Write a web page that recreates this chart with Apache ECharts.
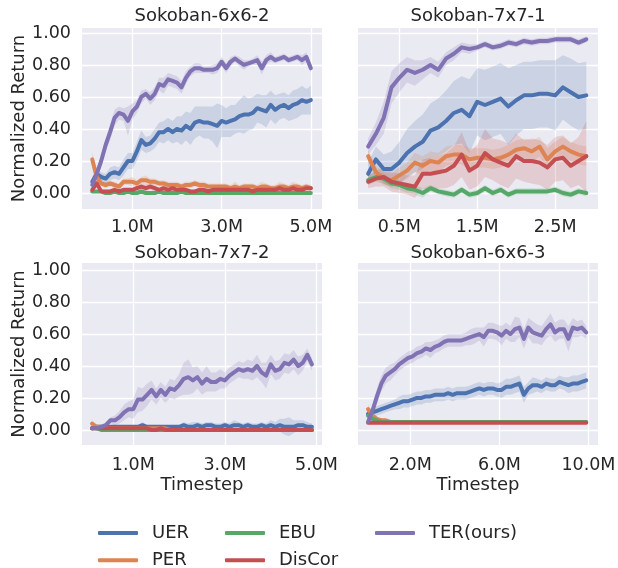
<!DOCTYPE html>
<html><head><meta charset="utf-8">
<script src="https://cdn.jsdelivr.net/npm/echarts@6/dist/echarts.min.js"></script>
<style>html,body{margin:0;padding:0;background:#fff}#c{width:618px;height:568px}</style>
</head><body><div id="c"></div>
<script>
// ---------- data ----------
const methods = ['UER','PER','EBU','DisCor','TER(ours)'];
const colors = ['#4C72B0','#DD8452','#55A868','#C44E52','#8172B3'];
const titles = ['Sokoban-6x6-2','Sokoban-7x7-1','Sokoban-7x7-2','Sokoban-6x6-3'];
const yTicks = [0,0.2,0.4,0.6,0.8,1.0];
const yTickLabels = ['0.00','0.20','0.40','0.60','0.80','1.00'];
const xTicksTL = [1,3,5], xTickLabelsTL = ['1.0M','3.0M','5.0M'];
const xTicksTR = [0.5,1.5,2.5], xTickLabelsTR = ['0.5M','1.5M','2.5M'];
const xTicksBL = [1,3,5], xTickLabelsBL = ['1.0M','3.0M','5.0M'];
const xTicksBR = [2,6,10], xTickLabelsBR = ['2.0M','6.0M','10.0M'];

// Sokoban-6x6-2 (timesteps in millions)
const tl_x = [0.1,0.2,0.3,0.4,0.5,0.6,0.7,0.8,0.9,1.0,1.1,1.2,1.3,1.4,1.5,1.6,1.7,1.8,1.9,2.0,2.1,2.2,2.3,2.4,2.5,2.6,2.7,2.8,2.9,3.0,3.1,3.2,3.3,3.4,3.5,3.6,3.7,3.8,3.9,4.0,4.1,4.2,4.3,4.4,4.5,4.6,4.7,4.8,4.9,5.0];
const tl_uer = [0.07,0.12,0.10,0.09,0.12,0.13,0.12,0.16,0.20,0.20,0.26,0.33,0.30,0.31,0.34,0.38,0.38,0.40,0.38,0.40,0.39,0.42,0.40,0.44,0.45,0.44,0.44,0.43,0.42,0.45,0.44,0.45,0.46,0.48,0.49,0.49,0.50,0.53,0.52,0.51,0.55,0.52,0.54,0.55,0.53,0.55,0.56,0.58,0.57,0.58];
const tl_uer_ci = [0.03,0.04,0.03,0.03,0.04,0.04,0.04,0.05,0.05,0.05,0.06,0.06,0.05,0.05,0.06,0.06,0.07,0.07,0.07,0.08,0.09,0.09,0.10,0.10,0.09,0.10,0.10,0.11,0.14,0.10,0.09,0.10,0.09,0.10,0.12,0.10,0.10,0.09,0.09,0.10,0.09,0.09,0.08,0.08,0.08,0.09,0.09,0.09,0.08,0.09];
const tl_per = [0.21,0.10,0.06,0.05,0.06,0.05,0.04,0.07,0.07,0.07,0.06,0.08,0.08,0.07,0.07,0.06,0.06,0.05,0.05,0.05,0.04,0.05,0.05,0.06,0.05,0.05,0.04,0.04,0.04,0.04,0.04,0.03,0.04,0.03,0.04,0.04,0.04,0.03,0.04,0.04,0.03,0.03,0.04,0.04,0.03,0.04,0.04,0.03,0.04,0.03];
const tl_per_ci = [0.05,0.03,0.02,0.02,0.02,0.02,0.02,0.02,0.02,0.03,0.02,0.02,0.03,0.02,0.02,0.02,0.02,0.02,0.02,0.02,0.02,0.02,0.02,0.02,0.02,0.02,0.02,0.02,0.02,0.02,0.02,0.02,0.03,0.02,0.02,0.02,0.02,0.02,0.03,0.02,0.02,0.02,0.03,0.02,0.02,0.03,0.02,0.02,0.02,0.02];
const tl_ebu = [0.01,0.01,0.01,0.00,0.00,0.01,0.00,0.00,0.01,0.00,0.00,0.01,0.00,0.00,0.00,0.01,0.00,0.00,0.00,0.00,0.01,0.00,0.00,0.00,0.00,0.00,0.00,0.00,0.00,0.00,0.00,0.00,0.00,0.00,0.00,0.00,0.00,0.00,0.00,0.00,0.00,0.00,0.00,0.00,0.00,0.00,0.00,0.00,0.00,0.00];
const tl_ebu_ci = [0.01,0.01,0.01,0.01,0.01,0.01,0.01,0.01,0.01,0.01,0.01,0.01,0.01,0.01,0.01,0.01,0.01,0.01,0.01,0.01,0.01,0.01,0.01,0.01,0.01,0.01,0.01,0.01,0.01,0.01,0.01,0.01,0.01,0.01,0.01,0.01,0.01,0.01,0.01,0.01,0.01,0.01,0.01,0.01,0.01,0.01,0.01,0.01,0.01,0.01];
const tl_dis = [0.02,0.06,0.01,0.01,0.01,0.02,0.01,0.02,0.02,0.02,0.03,0.04,0.03,0.04,0.03,0.02,0.03,0.02,0.03,0.02,0.02,0.02,0.01,0.01,0.02,0.02,0.01,0.02,0.02,0.02,0.02,0.02,0.02,0.02,0.02,0.02,0.01,0.02,0.02,0.02,0.02,0.02,0.03,0.02,0.02,0.03,0.02,0.02,0.03,0.03];
const tl_dis_ci = [0.01,0.02,0.01,0.01,0.01,0.01,0.01,0.01,0.01,0.01,0.02,0.02,0.02,0.02,0.02,0.01,0.02,0.01,0.02,0.01,0.01,0.01,0.01,0.01,0.01,0.01,0.01,0.01,0.01,0.01,0.01,0.01,0.01,0.01,0.01,0.01,0.01,0.01,0.01,0.01,0.01,0.01,0.02,0.01,0.01,0.02,0.01,0.01,0.01,0.01];
const tl_ter = [0.05,0.12,0.20,0.30,0.38,0.47,0.50,0.49,0.45,0.51,0.54,0.60,0.62,0.59,0.62,0.68,0.67,0.71,0.70,0.69,0.66,0.72,0.76,0.78,0.78,0.77,0.77,0.77,0.78,0.82,0.78,0.82,0.84,0.82,0.80,0.81,0.82,0.83,0.78,0.83,0.85,0.83,0.84,0.85,0.83,0.84,0.85,0.83,0.85,0.78];
const tl_ter_ci = [0.02,0.03,0.04,0.04,0.05,0.05,0.04,0.04,0.09,0.05,0.04,0.04,0.03,0.04,0.04,0.04,0.05,0.04,0.04,0.04,0.04,0.04,0.03,0.03,0.03,0.02,0.02,0.03,0.03,0.03,0.03,0.03,0.02,0.03,0.03,0.02,0.02,0.03,0.04,0.03,0.03,0.02,0.02,0.02,0.02,0.02,0.02,0.03,0.03,0.03];

// Sokoban-7x7-1
const tr_x = [0.1,0.2,0.3,0.4,0.5,0.6,0.7,0.8,0.9,1.0,1.1,1.2,1.3,1.4,1.5,1.6,1.7,1.8,1.9,2.0,2.1,2.2,2.3,2.4,2.5,2.6,2.7,2.8,2.9];
const tr_uer = [0.12,0.21,0.15,0.15,0.19,0.25,0.29,0.32,0.39,0.41,0.45,0.50,0.52,0.48,0.57,0.55,0.57,0.59,0.54,0.58,0.61,0.61,0.62,0.62,0.61,0.66,0.63,0.60,0.61];
const tr_uer_ci = [0.07,0.08,0.09,0.11,0.13,0.15,0.16,0.17,0.17,0.18,0.19,0.20,0.21,0.23,0.21,0.22,0.22,0.22,0.24,0.22,0.21,0.21,0.21,0.21,0.22,0.20,0.21,0.21,0.21];
const tr_per = [0.23,0.13,0.09,0.08,0.11,0.14,0.19,0.17,0.20,0.19,0.23,0.24,0.24,0.21,0.22,0.22,0.21,0.22,0.24,0.27,0.28,0.26,0.29,0.21,0.26,0.29,0.26,0.24,0.23];
const tr_per_ci = [0.04,0.04,0.04,0.04,0.05,0.05,0.06,0.06,0.06,0.06,0.06,0.06,0.06,0.07,0.06,0.06,0.06,0.06,0.06,0.06,0.06,0.07,0.06,0.07,0.06,0.06,0.06,0.06,0.06];
const tr_ebu = [0.08,0.10,0.09,0.06,0.05,0.03,0.02,0.00,0.03,0.01,0.00,-0.01,0.02,-0.01,0.00,0.03,0.00,0.02,-0.01,0.01,0.01,0.01,0.01,0.01,0.02,0.00,-0.01,0.01,0.00];
const tr_ebu_ci = [0.03,0.03,0.03,0.03,0.03,0.03,0.03,0.03,0.02,0.02,0.02,0.02,0.02,0.02,0.02,0.02,0.02,0.02,0.02,0.02,0.02,0.02,0.02,0.02,0.02,0.02,0.02,0.02,0.02];
const tr_dis = [0.07,0.09,0.10,0.07,0.06,0.05,0.04,0.12,0.12,0.13,0.14,0.17,0.24,0.14,0.17,0.25,0.21,0.19,0.17,0.23,0.20,0.20,0.19,0.16,0.21,0.22,0.17,0.20,0.23];
const tr_dis_ci = [0.04,0.05,0.06,0.06,0.06,0.06,0.07,0.09,0.10,0.10,0.11,0.12,0.14,0.12,0.13,0.15,0.13,0.14,0.14,0.14,0.13,0.14,0.14,0.14,0.14,0.14,0.14,0.15,0.22];
const tr_ter = [0.29,0.37,0.47,0.66,0.72,0.77,0.75,0.77,0.80,0.77,0.84,0.87,0.91,0.90,0.91,0.93,0.91,0.92,0.94,0.93,0.95,0.94,0.95,0.95,0.96,0.96,0.96,0.94,0.96];
const tr_ter_ci = [0.05,0.07,0.10,0.10,0.09,0.08,0.08,0.06,0.05,0.05,0.04,0.04,0.03,0.03,0.02,0.02,0.02,0.02,0.02,0.02,0.02,0.02,0.02,0.02,0.02,0.02,0.02,0.02,0.02];

// Sokoban-7x7-2
const bl_x = [0.1,0.2,0.3,0.4,0.5,0.6,0.7,0.8,0.9,1.0,1.1,1.2,1.3,1.4,1.5,1.6,1.7,1.8,1.9,2.0,2.1,2.2,2.3,2.4,2.5,2.6,2.7,2.8,2.9,3.0,3.1,3.2,3.3,3.4,3.5,3.6,3.7,3.8,3.9,4.0,4.1,4.2,4.3,4.4,4.5,4.6,4.7,4.8,4.9];
const bl_uer = [0.01,0.02,0.02,0.02,0.02,0.02,0.02,0.02,0.02,0.02,0.02,0.03,0.02,0.02,0.02,0.02,0.02,0.02,0.02,0.02,0.03,0.02,0.02,0.03,0.02,0.03,0.03,0.02,0.02,0.03,0.02,0.03,0.03,0.02,0.03,0.02,0.02,0.03,0.02,0.03,0.02,0.03,0.02,0.02,0.02,0.03,0.03,0.02,0.02];
const bl_uer_ci = [0.01,0.01,0.01,0.01,0.01,0.01,0.01,0.01,0.01,0.01,0.01,0.02,0.01,0.01,0.01,0.01,0.01,0.01,0.01,0.01,0.02,0.02,0.03,0.02,0.02,0.02,0.02,0.02,0.02,0.02,0.02,0.03,0.02,0.02,0.02,0.02,0.02,0.02,0.02,0.03,0.03,0.04,0.05,0.06,0.04,0.03,0.03,0.03,0.02];
const bl_per = [0.04,0.02,0.02,0.01,0.01,0.01,0.01,0.01,0.01,0.01,0.01,0.01,0.01,0.01,0.01,0.01,0.01,0.00,0.00,0.00,0.00,0.00,0.00,0.00,0.00,0.00,0.00,0.00,0.00,0.00,0.00,0.00,0.00,0.00,0.00,0.00,0.00,0.00,0.00,0.00,0.00,0.00,0.00,0.00,0.00,0.00,0.00,0.00,0.00];
const bl_per_ci = [0.02,0.01,0.01,0.01,0.01,0.01,0.01,0.01,0.01,0.01,0.01,0.01,0.01,0.01,0.01,0.01,0.01,0.01,0.01,0.01,0.01,0.01,0.01,0.01,0.01,0.01,0.01,0.01,0.01,0.01,0.01,0.01,0.01,0.01,0.01,0.01,0.01,0.01,0.01,0.01,0.01,0.01,0.01,0.01,0.01,0.01,0.01,0.01,0.01];
const bl_ebu = [0.01,0.01,0.00,0.00,0.00,0.00,0.00,0.00,0.00,0.00,0.00,0.00,0.00,0.00,0.00,0.00,0.00,0.00,0.00,0.00,0.00,0.00,0.00,0.00,0.00,0.00,0.00,0.00,0.00,0.00,0.00,0.00,0.00,0.00,0.00,0.00,0.00,0.00,0.00,0.00,0.00,0.00,0.00,0.00,0.00,0.00,0.00,0.00,0.00];
const bl_ebu_ci = [0.01,0.01,0.01,0.01,0.01,0.01,0.01,0.01,0.01,0.01,0.01,0.01,0.01,0.01,0.01,0.01,0.01,0.01,0.01,0.01,0.01,0.01,0.01,0.01,0.01,0.01,0.01,0.01,0.01,0.01,0.01,0.01,0.01,0.01,0.01,0.01,0.01,0.01,0.01,0.01,0.01,0.01,0.01,0.01,0.01,0.01,0.01,0.01,0.01];
const bl_dis = [0.01,0.01,0.01,0.01,0.01,0.01,0.01,0.01,0.01,0.01,0.01,0.01,0.01,0.00,0.00,0.01,0.00,0.00,0.00,0.00,0.00,0.00,0.00,0.00,0.00,0.00,0.00,0.00,0.00,0.00,0.00,0.00,0.00,0.00,0.00,0.00,0.00,0.00,0.00,0.00,0.00,0.00,0.00,0.00,0.00,0.00,0.00,0.00,0.00];
const bl_dis_ci = [0.01,0.01,0.01,0.01,0.01,0.01,0.01,0.01,0.01,0.01,0.01,0.01,0.01,0.01,0.01,0.01,0.01,0.01,0.01,0.01,0.01,0.01,0.01,0.01,0.01,0.01,0.01,0.01,0.01,0.01,0.01,0.01,0.01,0.01,0.01,0.01,0.01,0.01,0.01,0.01,0.01,0.01,0.01,0.01,0.01,0.01,0.01,0.01,0.01];
const bl_ter = [0.01,0.01,0.02,0.03,0.06,0.06,0.08,0.11,0.13,0.13,0.19,0.19,0.22,0.25,0.21,0.25,0.22,0.26,0.25,0.28,0.32,0.33,0.31,0.33,0.29,0.32,0.30,0.30,0.32,0.31,0.34,0.36,0.38,0.37,0.38,0.37,0.40,0.36,0.34,0.41,0.37,0.38,0.42,0.41,0.44,0.40,0.42,0.47,0.41];
const bl_ter_ci = [0.01,0.01,0.01,0.02,0.02,0.03,0.04,0.05,0.05,0.06,0.08,0.07,0.07,0.06,0.05,0.05,0.05,0.06,0.06,0.07,0.10,0.11,0.08,0.07,0.07,0.08,0.06,0.06,0.06,0.05,0.05,0.05,0.05,0.05,0.06,0.06,0.07,0.06,0.08,0.06,0.06,0.06,0.06,0.06,0.06,0.06,0.05,0.04,0.04];

// Sokoban-6x6-3
const br_x = [0.1,0.3,0.5,0.7,0.9,1.1,1.3,1.5,1.7,1.9,2.1,2.3,2.5,2.7,2.9,3.1,3.3,3.5,3.7,3.9,4.1,4.3,4.5,4.7,4.9,5.1,5.3,5.5,5.7,5.9,6.1,6.3,6.5,6.7,6.9,7.1,7.3,7.5,7.7,7.9,8.1,8.3,8.5,8.7,8.9,9.1,9.3,9.5,9.7,9.9];
const br_uer = [0.10,0.11,0.12,0.13,0.14,0.15,0.16,0.17,0.18,0.18,0.19,0.20,0.20,0.21,0.21,0.22,0.22,0.22,0.23,0.22,0.23,0.23,0.23,0.24,0.25,0.26,0.25,0.26,0.26,0.25,0.25,0.27,0.27,0.28,0.29,0.22,0.26,0.28,0.28,0.27,0.29,0.28,0.28,0.30,0.29,0.28,0.29,0.29,0.30,0.31];
const br_uer_ci = [0.03,0.03,0.03,0.03,0.03,0.03,0.03,0.04,0.04,0.04,0.04,0.04,0.04,0.04,0.04,0.04,0.04,0.04,0.04,0.04,0.04,0.04,0.04,0.04,0.04,0.04,0.04,0.04,0.04,0.04,0.05,0.05,0.05,0.05,0.05,0.05,0.04,0.05,0.04,0.04,0.04,0.04,0.04,0.04,0.04,0.05,0.05,0.05,0.05,0.05];
const br_per = [0.13,0.09,0.07,0.06,0.06,0.05,0.05,0.05,0.05,0.05,0.05,0.05,0.05,0.05,0.05,0.05,0.05,0.05,0.05,0.05,0.05,0.05,0.05,0.05,0.05,0.05,0.05,0.05,0.05,0.05,0.05,0.05,0.05,0.05,0.05,0.05,0.05,0.05,0.05,0.05,0.05,0.05,0.05,0.05,0.05,0.05,0.05,0.05,0.05,0.05];
const br_per_ci = [0.03,0.02,0.01,0.01,0.01,0.01,0.01,0.01,0.01,0.01,0.01,0.01,0.01,0.01,0.01,0.01,0.01,0.01,0.01,0.01,0.01,0.01,0.01,0.01,0.01,0.01,0.01,0.01,0.01,0.01,0.01,0.01,0.01,0.01,0.01,0.01,0.01,0.01,0.01,0.01,0.01,0.01,0.01,0.01,0.01,0.01,0.01,0.01,0.01,0.01];
const br_ebu = [0.09,0.07,0.06,0.05,0.05,0.05,0.05,0.05,0.05,0.05,0.05,0.05,0.05,0.05,0.05,0.05,0.05,0.05,0.05,0.05,0.05,0.05,0.05,0.05,0.05,0.05,0.05,0.05,0.05,0.05,0.05,0.05,0.05,0.05,0.05,0.05,0.05,0.05,0.05,0.05,0.05,0.05,0.05,0.05,0.05,0.05,0.05,0.05,0.05,0.05];
const br_ebu_ci = [0.02,0.01,0.01,0.01,0.01,0.01,0.01,0.01,0.01,0.01,0.01,0.01,0.01,0.01,0.01,0.01,0.01,0.01,0.01,0.01,0.01,0.01,0.01,0.01,0.01,0.01,0.01,0.01,0.01,0.01,0.01,0.01,0.01,0.01,0.01,0.01,0.01,0.01,0.01,0.01,0.01,0.01,0.01,0.01,0.01,0.01,0.01,0.01,0.01,0.01];
const br_dis = [0.045,0.045,0.045,0.045,0.045,0.045,0.045,0.045,0.045,0.045,0.045,0.045,0.045,0.045,0.045,0.045,0.045,0.045,0.045,0.045,0.045,0.045,0.045,0.045,0.045,0.045,0.045,0.045,0.045,0.045,0.045,0.045,0.045,0.045,0.045,0.045,0.045,0.045,0.045,0.045,0.045,0.045,0.045,0.045,0.045,0.045,0.045,0.045,0.045,0.045];
const br_dis_ci = [0.005,0.005,0.005,0.005,0.005,0.005,0.005,0.005,0.005,0.005,0.005,0.005,0.005,0.005,0.005,0.005,0.005,0.005,0.005,0.005,0.005,0.005,0.005,0.005,0.005,0.005,0.005,0.005,0.005,0.005,0.005,0.005,0.005,0.005,0.005,0.005,0.005,0.005,0.005,0.005,0.005,0.005,0.005,0.005,0.005,0.005,0.005,0.005,0.005,0.005];
const br_ter = [0.05,0.12,0.21,0.29,0.34,0.36,0.38,0.41,0.43,0.45,0.46,0.48,0.49,0.51,0.50,0.52,0.53,0.55,0.56,0.56,0.56,0.56,0.57,0.58,0.59,0.60,0.58,0.62,0.62,0.61,0.59,0.62,0.60,0.63,0.64,0.57,0.64,0.61,0.60,0.59,0.63,0.66,0.61,0.63,0.63,0.57,0.64,0.63,0.64,0.61];
const br_ter_ci = [0.02,0.04,0.05,0.05,0.05,0.05,0.04,0.04,0.04,0.04,0.04,0.04,0.04,0.04,0.05,0.04,0.04,0.04,0.04,0.04,0.04,0.04,0.04,0.05,0.05,0.04,0.06,0.05,0.05,0.05,0.06,0.05,0.05,0.08,0.06,0.06,0.06,0.07,0.06,0.06,0.06,0.07,0.06,0.06,0.06,0.08,0.06,0.05,0.05,0.04];

// ---------- chart ----------
const FONT = 'DejaVu Sans';
const TXT = '#262626';
const panels = [
  {x: tl_x, series: [[tl_uer,tl_uer_ci],[tl_per,tl_per_ci],[tl_ebu,tl_ebu_ci],[tl_dis,tl_dis_ci],[tl_ter,tl_ter_ci]],
   grid: {left:82, top:28, width:240, height:181}, xmin:-0.13, xmax:5.25, ymin:-0.1, ymax:1.031,
   xt: xTicksTL, xl: xTickLabelsTL, yLabels:true, xName:'', titleTop:7.5, lblMargin:9.5},
  {x: tr_x, series: [[tr_uer,tr_uer_ci],[tr_per,tr_per_ci],[tr_ebu,tr_ebu_ci],[tr_dis,tr_dis_ci],[tr_ter,tr_ter_ci]],
   grid: {left:358, top:28, width:240, height:181}, xmin:-0.03, xmax:3.05, ymin:-0.1, ymax:1.031,
   xt: xTicksTR, xl: xTickLabelsTR, yLabels:false, xName:'', titleTop:7.5, lblMargin:9.5},
  {x: bl_x, series: [[bl_uer,bl_uer_ci],[bl_per,bl_per_ci],[bl_ebu,bl_ebu_ci],[bl_dis,bl_dis_ci],[bl_ter,bl_ter_ci]],
   grid: {left:82, top:263, width:240, height:182}, xmin:-0.12, xmax:5.12, ymin:-0.094, ymax:1.044,
   xt: xTicksBL, xl: xTickLabelsBL, yLabels:true, xName:'Timestep', titleTop:244.5, lblMargin:11},
  {x: br_x, series: [[br_uer,br_uer_ci],[br_per,br_per_ci],[br_ebu,br_ebu_ci],[br_dis,br_dis_ci],[br_ter,br_ter_ci]],
   grid: {left:358, top:263, width:240, height:182}, xmin:-0.35, xmax:10.43, ymin:-0.094, ymax:1.044,
   xt: xTicksBR, xl: xTickLabelsBR, yLabels:false, xName:'Timestep', titleTop:244.5, lblMargin:11}
];

function hexA(hex, a) {
  const n = parseInt(hex.slice(1), 16);
  return 'rgba(' + (n >> 16 & 255) + ',' + (n >> 8 & 255) + ',' + (n & 255) + ',' + a + ')';
}

const grids = [], xAxes = [], yAxes = [], series = [], titleOpts = [];
panels.forEach((p, pi) => {
  grids.push(Object.assign({show:true, backgroundColor:'#EAEAF2', borderWidth:0, outerBoundsMode:'none'}, p.grid));
  titleOpts.push({text: titles[pi], left: p.grid.left + p.grid.width/2, top: p.titleTop, textAlign:'center', padding:0,
    textStyle:{fontFamily:FONT, fontSize:18, fontWeight:'normal', color:TXT}});
  xAxes.push({gridIndex:pi, type:'value', min:p.xmin, max:p.xmax,
    axisLine:{show:false}, axisTick:{show:false, customValues:p.xt},
    axisLabel:{customValues:p.xt, formatter: v => p.xl[p.xt.indexOf(v)] ?? '', color:TXT, fontFamily:FONT, fontSize:17.5, margin:p.lblMargin},
    splitLine:{show:true, lineStyle:{color:'#ffffff', width:1.3}},
    name:p.xName, nameLocation:'middle', nameGap:31, nameTextStyle:{fontFamily:FONT, fontSize:18, color:TXT}});
  yAxes.push({gridIndex:pi, type:'value', min:p.ymin, max:p.ymax,
    axisLine:{show:false}, axisTick:{show:false, customValues:yTicks},
    axisLabel:{show:p.yLabels, customValues:yTicks, formatter: v => yTickLabels[yTicks.findIndex(t => Math.abs(t-v)<1e-9)] ?? '', color:TXT, fontFamily:FONT, fontSize:17.5, margin:11},
    splitLine:{show:true, lineStyle:{color:'#ffffff', width:1.3}},
    name:p.yLabels ? 'Normalized Return' : '', nameLocation:'middle', nameGap:54, nameTextStyle:{fontFamily:FONT, fontSize:18, color:TXT}});
  // confidence bands (drawn below all lines)
  p.series.forEach((s, mi) => {
    const mean = s[0], ci = s[1], xs = p.x;
    series.push({type:'custom', name:methods[mi]+' band', xAxisIndex:pi, yAxisIndex:pi, silent:true, z:2,
      data: [[xs[0], mean[0]]], clip:true,
      renderItem: (params, api) => {
        const pts = [];
        for (let i = 0; i < xs.length; i++) pts.push(api.coord([xs[i], mean[i] + ci[i]]));
        for (let i = xs.length - 1; i >= 0; i--) pts.push(api.coord([xs[i], mean[i] - ci[i]]));
        return {type:'polygon', shape:{points:pts}, style:{fill:hexA(colors[mi], 0.2), stroke:'none'}};
      }});
  });
  p.series.forEach((s, mi) => {
    series.push({type:'line', name:methods[mi], xAxisIndex:pi, yAxisIndex:pi,
      data: p.x.map((v,i) => [v, s[0][i]]), symbol:'none', showSymbol:false,
      lineStyle:{color:colors[mi], width:4, cap:'round', join:'round'}, itemStyle:{color:colors[mi]}, z:3});
  });
});

const legendPos = [
  {name:'UER', left:98, top:524},
  {name:'PER', left:98, top:551.3},
  {name:'EBU', left:225, top:524},
  {name:'DisCor', left:225, top:551.3},
  {name:'TER(ours)', left:375, top:524}
];
const legends = legendPos.map(l => ({
  data:[{name:l.name, icon:'roundRect'}], left:l.left, top:l.top, padding:0,
  itemWidth:40, itemHeight:4, selectedMode:false,
  textStyle:{fontFamily:FONT, fontSize:18, color:TXT, padding:[0,0,0,9]}
}));

const chart = echarts.init(document.getElementById('c'), null, {renderer:'canvas'});
chart.setOption({
  animation:false,
  backgroundColor:'#ffffff',
  title: titleOpts,
  grid: grids, xAxis: xAxes, yAxis: yAxes,
  legend: legends,
  series
});
</script></body></html>
